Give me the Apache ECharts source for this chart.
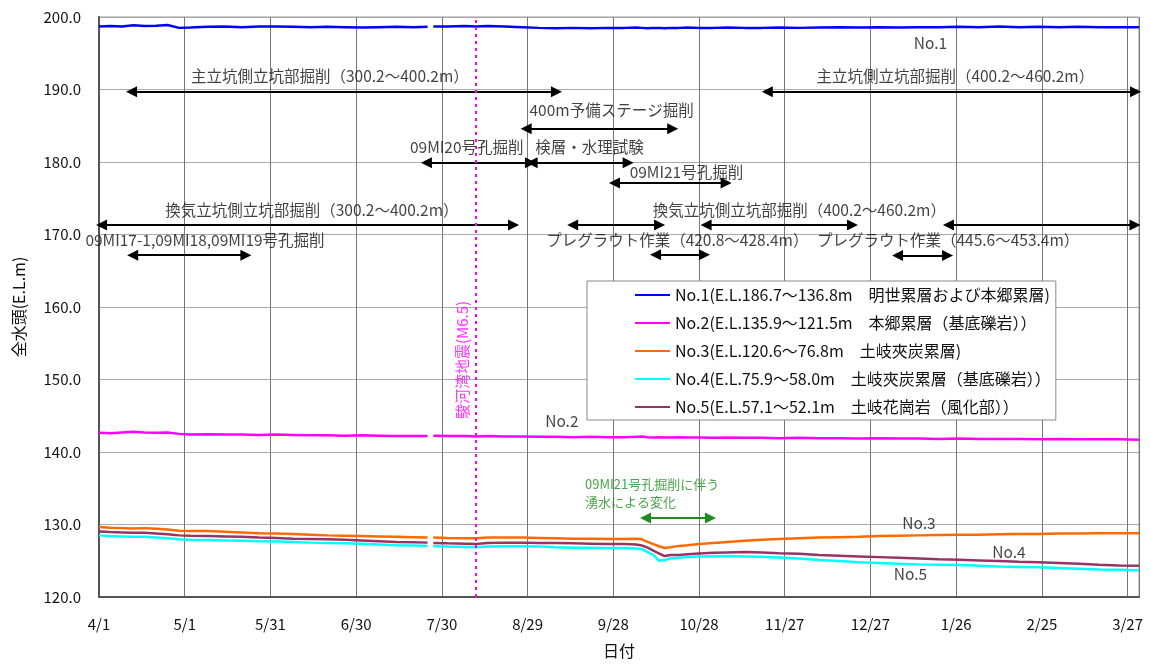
<!DOCTYPE html>
<html><head><meta charset="utf-8">
<script src="https://cdn.jsdelivr.net/npm/echarts@6/dist/echarts.min.js"></script>
<style>html,body{margin:0;padding:0;background:#fff}#c{width:1150px;height:664px}</style>
</head><body><div id="c"></div>
<script>
// days from 2009/4/1
const days = [0,4,8,12,16,20,24,28,32,38,44,50,56,62,68,74,80,86,92,98,104,110,115,116,117,122,128,132,136,142,148,154,160,166,172,178,184,188,190,192,194,196,198,200,203,206,210,215,220,226,232,238,245,252,259,266,273,280,287,294,301,308,315,322,329,336,343,350,357,364];
const tickLabels = ['4/1','5/1','5/31','6/30','7/30','8/29','9/28','10/28','11/27','12/27','1/26','2/25','3/27'];
const names = [
  'No.1(E.L.186.7～136.8m　明世累層および本郷累層)',
  'No.2(E.L.135.9～121.5m　本郷累層（基底礫岩））',
  'No.3(E.L.120.6～76.8m　土岐夾炭累層)',
  'No.4(E.L.75.9～58.0m　土岐夾炭累層（基底礫岩））',
  'No.5(E.L.57.1～52.1m　土岐花崗岩（風化部））'
];
const colors = ['#0000FF','#FF00FF','#FF6A00','#00FFFF','#993366'];
const no1 = [198.7,198.75,198.7,198.85,198.75,198.8,198.9,198.5,198.55,198.65,198.7,198.6,198.7,198.7,198.65,198.6,198.65,198.6,198.55,198.6,198.65,198.6,198.65,null,198.7,198.7,198.75,198.7,198.75,198.7,198.6,198.5,198.45,198.5,198.45,198.5,198.5,198.55,198.5,198.45,198.5,198.5,198.45,198.5,198.5,198.55,198.5,198.5,198.55,198.5,198.5,198.55,198.5,198.55,198.6,198.55,198.6,198.55,198.6,198.6,198.65,198.6,198.7,198.6,198.65,198.6,198.65,198.6,198.6,198.6];
const no2 = [142.65,142.6,142.7,142.8,142.7,142.65,142.7,142.5,142.4,142.45,142.4,142.4,142.35,142.4,142.35,142.3,142.3,142.25,142.3,142.25,142.2,142.2,142.2,null,142.25,142.2,142.2,142.15,142.2,142.15,142.15,142.1,142.1,142.05,142.1,142.05,142.05,142.1,142.15,142.05,142.0,142.05,142.0,142.0,142.05,142.0,142.0,141.95,142.0,141.95,141.95,141.9,141.95,141.9,141.9,141.85,141.9,141.85,141.85,141.8,141.85,141.8,141.8,141.8,141.75,141.8,141.75,141.75,141.75,141.7];
const no3 = [129.65,129.55,129.5,129.45,129.5,129.4,129.3,129.15,129.1,129.1,129.0,128.9,128.8,128.75,128.7,128.6,128.5,128.45,128.4,128.35,128.3,128.25,128.2,null,128.2,128.15,128.1,128.1,128.2,128.2,128.2,128.15,128.1,128.05,128.05,128.0,128.0,128.05,127.95,127.6,127.3,127.0,126.75,126.85,127.05,127.15,127.3,127.45,127.6,127.75,127.9,128.0,128.1,128.2,128.25,128.3,128.4,128.45,128.5,128.55,128.6,128.6,128.65,128.7,128.7,128.75,128.75,128.8,128.8,128.8];
const no4 = [128.5,128.4,128.35,128.3,128.3,128.2,128.1,127.95,127.9,127.85,127.8,127.75,127.7,127.65,127.6,127.5,127.45,127.4,127.35,127.25,127.15,127.1,127.05,null,127.0,126.95,126.9,126.85,126.95,127.0,127.0,126.95,126.85,126.8,126.8,126.75,126.75,126.7,126.6,126.2,125.8,125.0,125.1,125.3,125.4,125.5,125.6,125.6,125.65,125.6,125.55,125.45,125.3,125.1,124.95,124.8,124.7,124.6,124.5,124.45,124.4,124.3,124.2,124.15,124.1,124.0,123.9,123.8,123.75,123.7];
const no5 = [129.05,128.95,128.9,128.85,128.85,128.75,128.65,128.5,128.45,128.4,128.35,128.3,128.2,128.15,128.05,128.0,127.95,127.9,127.8,127.7,127.6,127.55,127.5,null,127.45,127.4,127.35,127.3,127.45,127.5,127.5,127.45,127.45,127.4,127.35,127.3,127.3,127.25,127.1,126.8,126.4,126.0,125.65,125.8,125.8,125.9,126.0,126.1,126.15,126.2,126.15,126.05,125.95,125.8,125.7,125.6,125.5,125.4,125.3,125.2,125.15,125.05,124.95,124.85,124.8,124.7,124.6,124.45,124.35,124.3];
// annotation arrows: [startDay, endDay, level]
const arrows = [
  [11.4,160.1,189.7],[233.9,362.8,189.7],
  [149.5,200.8,184.6],
  [114.6,151.0,179.9],[151.6,185.2,179.9],
  [180.4,219.5,177.1],
  [0.9,145.1,171.3],[165.8,196.2,171.3],[212.5,263.7,171.3],[297.3,362.6,171.3],
  [194.8,211.9,167.2],[279.5,297.0,167.1],[11.8,51.4,167.15]
];
const greenArrows = [[191.3,214.0,130.9]];
// annotation texts: [day, level, text]
const notes = [
  [80.8,191.9,'主立坑側立坑部掘削（300.2～400.2m）'],
  [299.7,191.9,'主立坑側立坑部掘削（400.2～460.2m）'],
  [179.4,187.1,'400m予備ステージ掘削'],
  [128.7,182.05,'09MI20号孔掘削'],
  [171.7,182.05,'検層・水理試験'],
  [205.6,178.6,'09MI21号孔掘削'],
  [74.5,173.3,'換気立坑側立坑部掘削（300.2～400.2m）'],
  [245.1,173.3,'換気立坑側立坑部掘削（400.2～460.2m）'],
  [202.4,169.2,'プレグラウト作業（420.8～428.4m）'],
  [297.2,169.2,'プレグラウト作業（445.6～453.4m）'],
  [37.1,169.2,'09MI17-1,09MI18,09MI19号孔掘削'],
  [291,196.4,'No.1'],[162,144.2,'No.2'],[287,130.15,'No.3'],[318.5,126.2,'No.4'],[284,123.2,'No.5']
];
const greenNotes = [[170.1,135.6,'09MI21号孔掘削に伴う'],[170.1,133.1,'湧水による変化']];
const quakeDay = 132;
const quakeNote = [127.2,152.7,'駿河湾地震(M6.5)'];

const FONT = "'Noto Sans CJK JP','Noto Sans',sans-serif";
const values = [no1,no2,no3,no4,no5];
const series = values.map((v,k)=>({
  name: names[k], type:'line', symbol:'none', silent:true,
  data: days.map((d,i)=>[d, v[i]===null?'-':v[i]]),
  lineStyle:{color:colors[k], width:2.5}, itemStyle:{color:colors[k]},
  connectNulls:false, z: 3
}));
series.push({
  type:'line', data:[], silent:true, z:4,
  markLine:{silent:true, symbol:['triangle','triangle'], symbolSize:11, animation:false,
    label:{show:false}, lineStyle:{color:'#000', width:2, type:'solid'},
    data: arrows.map(a=>[{coord:[a[0],a[2]]},{coord:[a[1],a[2]]}])}
});
series.push({
  type:'line', data:[], silent:true, z:4,
  markLine:{silent:true, symbol:['triangle','triangle'], symbolSize:11, animation:false,
    label:{show:false}, lineStyle:{color:'#1E8C1E', width:2, type:'solid'},
    data: greenArrows.map(a=>[{coord:[a[0],a[2]]},{coord:[a[1],a[2]]}])}
});
series.push({
  type:'line', data:[], silent:true, z:2,
  markLine:{silent:true, symbol:['none','none'], animation:false, label:{show:false},
    lineStyle:{color:'#FF00FF', width:2, type:[3,4]},
    data:[{xAxis:quakeDay}]}
});
series.push({
  type:'scatter', symbolSize:0, silent:true, z:5,
  data: notes.map(n=>({value:[n[0],n[1]], label:{show:true, formatter:n[2]}})),
  label:{show:true, position:[0,0], align:'center', verticalAlign:'middle', color:'#111', fontSize:15.5, fontFamily:FONT}
});
series.push({
  type:'scatter', symbolSize:0, silent:true, z:5,
  data: greenNotes.map(n=>({value:[n[0],n[1]], label:{show:true, formatter:n[2]}})),
  label:{show:true, position:[0,0], align:'left', verticalAlign:'middle', color:'#1E8C1E', fontSize:13, fontFamily:FONT}
});
series.push({
  type:'scatter', symbolSize:0, silent:true, z:5,
  data: [{value:[quakeNote[0],quakeNote[1]], label:{show:true, formatter:quakeNote[2]}}],
  label:{show:true, position:[0,0], align:'center', verticalAlign:'middle', rotate:90, color:'#FF00FF', fontSize:15, fontFamily:FONT}
});

const chart = echarts.init(document.getElementById('c'), null, {renderer:'canvas'});
chart.setOption({
  animation:false,
  backgroundColor:'#fff',
  textStyle:{fontFamily:FONT},
  grid:{left:99, right:11, top:17, bottom:63, show:true, borderColor:'#999', borderWidth:1},
  legend:{
    data:names, orient:'vertical', left:587, top:281,
    padding:[5,5,4,48], itemGap:10, itemWidth:35, itemHeight:2, icon:'rect',
    backgroundColor:'#fff', borderColor:'#888', borderWidth:1,
    textStyle:{fontSize:16, color:'#111', fontFamily:FONT, lineHeight:18},
    selectedMode:false
  },
  xAxis:{
    type:'value', min:0, max:364, interval:30,
    name:'日付', nameLocation:'middle', nameGap:46,
    nameTextStyle:{fontSize:16, color:'#111'},
    axisLine:{show:true, onZero:false, lineStyle:{color:'#555', width:2}},
    axisTick:{show:false},
    axisLabel:{fontSize:15, color:'#111', margin:20,
      formatter:v=> (v%30===0 && tickLabels[v/30]!==undefined) ? tickLabels[v/30] : ''},
    splitLine:{show:true, lineStyle:{color:'#777', width:1}}
  },
  yAxis:{
    type:'value', min:120, max:200, interval:10,
    name:'全水頭(E.L.m)', nameLocation:'middle', nameGap:72,
    nameTextStyle:{fontSize:16, color:'#111'},
    axisLine:{show:true, lineStyle:{color:'#555', width:2}},
    axisTick:{show:false},
    axisLabel:{fontSize:15, color:'#111', margin:18, formatter:v=>v.toFixed(1)},
    splitLine:{show:true, lineStyle:{color:'#aaa', width:1}}
  },
  series: series
});
</script></body></html>
